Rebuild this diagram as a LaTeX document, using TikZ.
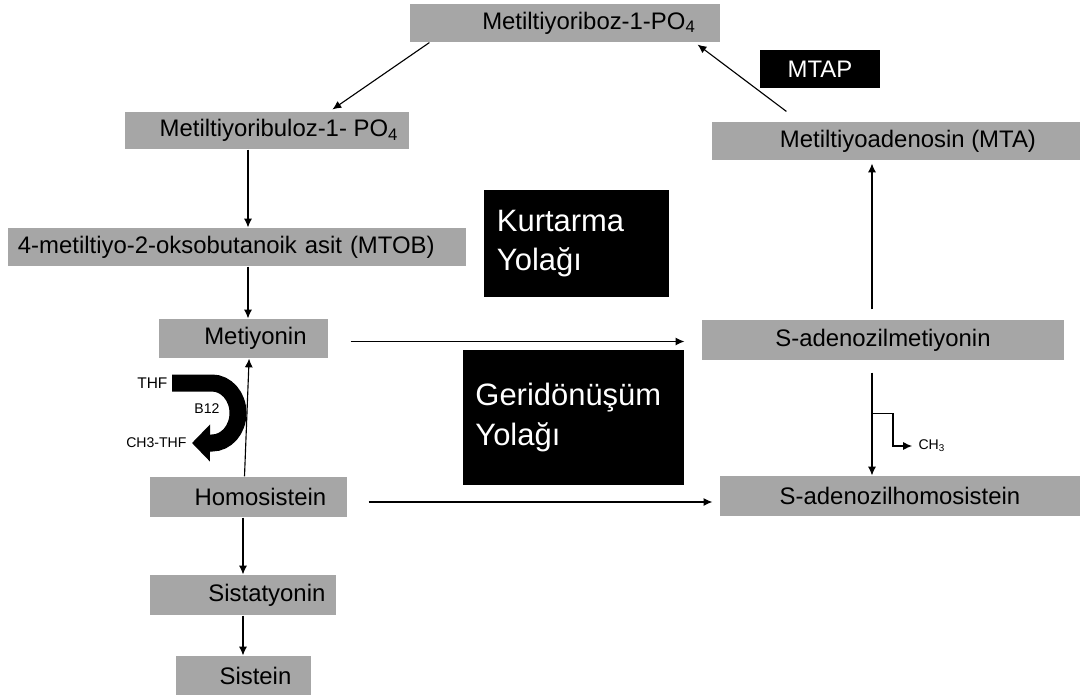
\documentclass[tikz,border=0pt]{standalone}
\usepackage{fontspec}
\setmainfont{Liberation Sans}
\usetikzlibrary{arrows.meta}
\definecolor{boxgray}{RGB}{166,166,166}

\begin{document}
\begin{tikzpicture}[-{Latex[length=2.2mm,width=2mm]}, line width=0.8pt,
      x=0.025cm, y=-0.025cm,
      every node/.append style={font=\fontsize{17}{20}\selectfont,inner sep=0pt}]
    \tikzstyle{compound} = [fill=boxgray,minimum height=0.95cm]
    \tikzstyle{pathway} = [fill=black,text=white,align=left,font=\fontsize{22}{28}\selectfont]
    \tikzstyle{small} = [font=\fontsize{10}{12}\selectfont]
    \useasboundingbox (0,0) rectangle (1081,697);

    % salvage side
    \node (ribp) [compound,minimum width=7.75cm] at (565,23) {\quad\quad Metiltiyoriboz-1-PO\textsubscript{4}};
    \node (rblp) [compound,minimum width=7.1cm,minimum height=0.925cm] at (267,130.5) {\quad Metiltiyoribuloz-1- PO\textsubscript{4}};
    \node (mtob) [compound,text width=10.95cm,inner xsep=0.25cm,align=left] at (237,247) {4-metiltiyo-2-oksobutanoik asit (MTOB)};
    \node (met) [compound,minimum width=4.225cm,minimum height=0.975cm] at (243.5,338.5) {\quad Metiyonin};
    \node (hcy) [compound,minimum width=4.925cm,minimum height=1cm] at (248.5,497) {\quad Homosistein};
    \node (cyst) [compound,minimum width=4.65cm,minimum height=1cm] at (243,595) {\quad\quad Sistatyonin};
    \node (cys) [compound,minimum width=3.375cm,minimum height=0.975cm] at (243.5,675.5) {\quad Sistein};
    \node (mta) [compound,minimum width=9.2cm] at (896,141) {\quad Metiltiyoadenosin (MTA)};
    \node (sam) [compound,minimum width=9.05cm,minimum height=1cm] at (883,340) {S-adenozilmetiyonin\quad};
    \node (sah) [compound,minimum width=9cm,minimum height=1cm] at (900,496) {S-adenozilhomosistein};

    \node (mtap) [fill=black,text=white,minimum width=3cm,minimum height=0.95cm] at (820,69) {MTAP};
    \node (kurt) [pathway,text width=3.975cm,inner xsep=0.325cm,minimum height=2.675cm] at (576.5,243.5) {Kurtarma\\Yolağı};
    \node (geri) [pathway,text width=4.9cm,inner xsep=0.3cm,minimum height=3.35cm] at (573.5,417.5) {Geridönüşüm\\Yolağı};

    \node (thf) [small,anchor=east,font=\fontsize{11}{13}\selectfont] at (168,383) {THF};
    \node (b12) [small] at (207,409) {B12};
    \node (ch3thf) [small,anchor=east] at (187,443) {CH3-THF};
    \node (ch3) [small,anchor=west] at (918,446) {CH\textsubscript{3}};

    \coordinate (axis) at (248,0);
    \draw ([xshift=0.5cm]ribp.south west) -- ([xshift=5.2cm,yshift=0.05cm]rblp.north west);
    \draw ([xshift=1.875cm,yshift=0.25cm]mta.north west) -- ([xshift=-0.575cm,yshift=-0.05cm]ribp.south east);
    \draw (rblp.south -| axis) -- (mtob.north -| axis);
    \draw (mtob.south -| axis) -- (met.north -| axis);
    \draw ([xshift=-0.1cm]hcy.north) -- ([xshift=0.14cm]met.south);
    \draw (hcy.south -| cyst) -- (cyst.north);
    \draw (cyst.south) -- (cys.north -| cyst);

    \coordinate (metout) at ([xshift=0.55cm,yshift=-0.075cm]met.east);
    \coordinate (hcyout) at ([xshift=0.525cm,yshift=-0.125cm]hcy.east);
    \draw (metout) -- ([xshift=-0.425cm]metout -| sam.west);
    \draw (hcyout) -- ([xshift=-0.175cm]hcyout -| sah.west);

    \coordinate (samtop) at ([xshift=-0.275cm,yshift=0.25cm]sam.north);
    \coordinate (sambot) at ([xshift=-0.275cm,yshift=-0.3cm]sam.south);
    \draw (samtop) -- ([yshift=-0.075cm]samtop |- mta.south);
    \draw (sambot) -- (sambot |- sah.north);
    \draw ([yshift=-1.025cm]sambot) -- ++(21,0) |- ([xshift=-0.15cm]ch3.west);

    % folate turn
    \draw[-{Triangle[length=0.45cm,width=0.9cm]},line width=0.425cm]
      ([xshift=0.1cm]thf.east) -- ++(40,0)
      arc[start angle=90,end angle=-90,x radius=0.65cm,y radius=0.75cm]
      -- ([xshift=0.125cm]ch3thf.east);
\end{tikzpicture}
\end{document}
